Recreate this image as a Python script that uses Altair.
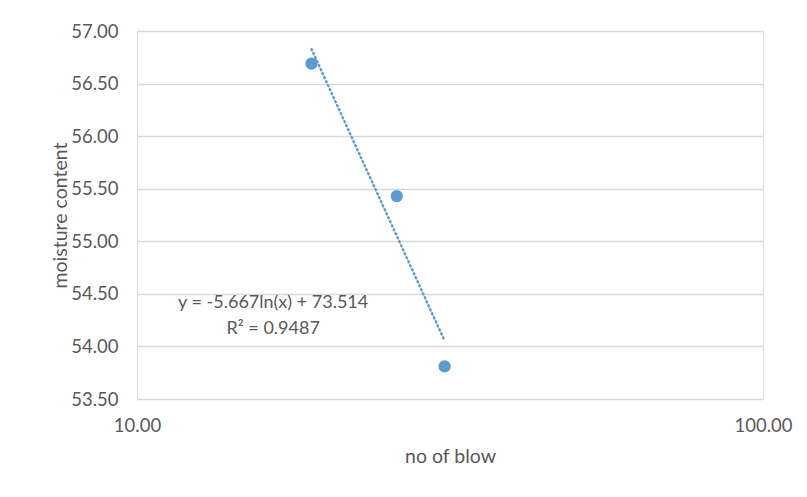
import altair as alt
import numpy as np
import pandas as pd

# Liquid limit test: number of blows vs. moisture content
blows = [19.0, 26.0, 31.0]
moisture = [56.69, 55.43, 53.81]

# Logarithmic trendline as reported: y = a*ln(x) + b
trend_a = -5.667
trend_b = 73.514
trend_r2 = 0.9487
trend_x = [min(blows), max(blows)]

eq_labels = [f"y = {trend_a}ln(x) + {trend_b}", f"R\u00b2 = {trend_r2}"]
eq_x = [16.5, 16.5]
eq_y = [54.41, 54.17]

y_ticks = [53.5, 54.0, 54.5, 55.0, 55.5, 56.0, 56.5, 57.0]
x_ticks = [10, 100]

FONT = "Lato"
GREY = "#595959"
BLUE = "#5b9bd5"

points = pd.DataFrame({"blows": blows, "moisture": moisture})
trend = pd.DataFrame({
    "blows": trend_x,
    "moisture": [trend_a * np.log(v) + trend_b for v in trend_x],
})
eq = pd.DataFrame({"blows": eq_x, "moisture": eq_y, "label": eq_labels})

x_scale = alt.Scale(type="log", domain=[10, 100], nice=False)
y_scale = alt.Scale(domain=[53.5, 57.0], nice=False, zero=False)

x_axis = alt.Axis(
    title="no of blow", values=x_ticks, format=".2f", grid=False,
    ticks=False, domain=False, labelPadding=17, titlePadding=13,
    labelFlush=False, labelFontSize=18.5, titleFontSize=19.5,
    labelColor=GREY, titleColor=GREY, labelFont=FONT, titleFont=FONT,
    titleFontWeight="normal",
)
y_axis = alt.Axis(
    title="moisture content", values=y_ticks, format=".2f", grid=True,
    gridColor="#d9d9d9", gridWidth=1.3, ticks=False, domain=False,
    labelPadding=19, titlePadding=0, labelFlush=False, labelFontSize=18.5,
    titleFontSize=19.5, labelColor=GREY, titleColor=GREY, labelFont=FONT,
    titleFont=FONT, titleFontWeight="normal",
)

base_x = alt.X("blows:Q", scale=x_scale, axis=x_axis)
base_y = alt.Y("moisture:Q", scale=y_scale, axis=y_axis)

trend_line = alt.Chart(trend).mark_line(
    color=BLUE, strokeWidth=2.4, strokeDash=[1.2, 3.2], strokeCap="round"
).encode(x=base_x, y=base_y)

dots = alt.Chart(points).mark_circle(
    color=BLUE, size=150, opacity=1
).encode(x="blows:Q", y="moisture:Q")

eq_text = alt.Chart(eq).mark_text(
    font=FONT, fontSize=18, color=GREY, align="center", baseline="middle"
).encode(x="blows:Q", y="moisture:Q", text="label:N")

chart = (
    alt.layer(trend_line, dots, eq_text)
    .properties(
        width=626, height=368,
        autosize=alt.AutoSizeParams(type="none"),
        padding={"left": 137, "top": 31, "right": 44, "bottom": 98},
    )
    .configure_view(stroke="#d9d9d9", strokeWidth=1.3)
    .configure(background="white")
)

chart.save("out.html", embed_options={"renderer": "svg", "actions": False})
